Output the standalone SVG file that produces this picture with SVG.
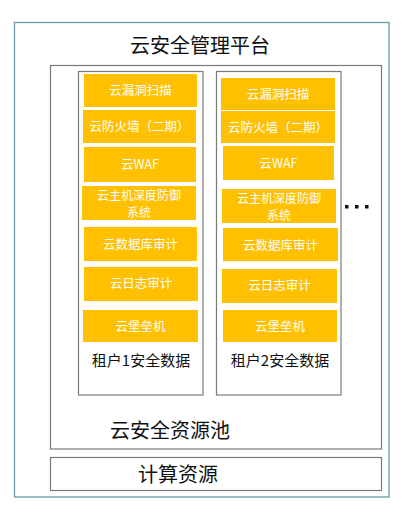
<svg xmlns="http://www.w3.org/2000/svg" width="403" height="512" viewBox="0 0 403 512">
<style>
.frame{fill:#fff;stroke:#6b97a6;stroke-width:1.3}
.box{fill:#fff;stroke:#7a7a7a;stroke-width:1.2}
.svc{fill:#FFC000;stroke:none}
.st{font-family:"Noto Sans CJK SC","Liberation Sans",sans-serif;font-size:12.5px;fill:#fff;text-anchor:middle}
.st2{font-family:"Noto Sans CJK SC","Liberation Sans",sans-serif;font-size:12px;fill:#fff;text-anchor:middle}
.lbl{font-family:"Noto Sans CJK SC","Liberation Sans",sans-serif;font-size:15px;fill:#111;text-anchor:middle}
.big{font-family:"Noto Sans CJK SC","Liberation Sans",sans-serif;font-size:20px;fill:#111;text-anchor:middle}
</style>
<rect width="403" height="512" fill="#fff"/>
<g id="platform">
<rect class="frame" x="14.5" y="22.5" width="374.5" height="474.5"/>
<text class="big" x="200" y="53">云安全管理平台</text>
</g>
<g id="pool">
<rect class="box" x="50.5" y="65.5" width="331" height="383.5"/>
<text class="big" x="170" y="438">云安全资源池</text>
</g>
<g id="tenant1">
<rect class="box" x="78.5" y="71.5" width="124.5" height="323.5"/>
<rect class="svc" x="84" y="74" width="113" height="33"/>
<text class="st" x="140.5" y="95">云漏洞扫描</text>
<rect class="svc" x="83" y="110" width="113" height="33"/>
<text class="st" x="139.5" y="131">云防火墙（二期）</text>
<rect class="svc" x="84" y="147" width="112" height="35"/>
<text class="st" x="140" y="169">云WAF</text>
<rect class="svc" x="82" y="186" width="114" height="34"/>
<text class="st2" x="139" y="199.5">云主机深度防御</text>
<text class="st2" x="139" y="217">系统</text>
<rect class="svc" x="84" y="227" width="113" height="34"/>
<text class="st" x="140.5" y="249">云数据库审计</text>
<rect class="svc" x="84" y="267" width="114" height="34"/>
<text class="st" x="141" y="288">云日志审计</text>
<rect class="svc" x="83" y="310" width="115" height="32"/>
<text class="st" x="140.5" y="331">云堡垒机</text>
<text class="lbl" x="141" y="366">租户1安全数据</text>
</g>
<g id="tenant2">
<rect class="box" x="216.5" y="71.5" width="124.5" height="323.5"/>
<rect class="svc" x="221" y="78" width="114" height="32"/>
<text class="st" x="278" y="99">云漏洞扫描</text>
<rect class="svc" x="221" y="111" width="114" height="32"/>
<text class="st" x="278" y="132">云防火墙（二期）</text>
<rect class="svc" x="223" y="146" width="111" height="34"/>
<text class="st" x="278.5" y="168">云WAF</text>
<rect class="svc" x="222" y="189" width="114" height="34"/>
<text class="st2" x="279" y="202.5">云主机深度防御</text>
<text class="st2" x="279" y="220">系统</text>
<rect class="svc" x="223" y="228" width="115" height="33"/>
<text class="st" x="280.5" y="250">云数据库审计</text>
<rect class="svc" x="222" y="269" width="115" height="34"/>
<text class="st" x="279.5" y="290">云日志审计</text>
<rect class="svc" x="223" y="310" width="114" height="32"/>
<text class="st" x="280" y="331">云堡垒机</text>
<text class="lbl" x="280" y="366">租户2安全数据</text>
</g>
<g id="more">
<rect x="345" y="205" width="3.5" height="3.5" fill="#111"/>
<rect x="355" y="205" width="3.5" height="3.5" fill="#111"/>
<rect x="365" y="205" width="3.5" height="3.5" fill="#111"/>
</g>
<g id="compute">
<rect class="box" x="50.5" y="457.5" width="331" height="33"/>
<text class="big" x="178" y="482">计算资源</text>
</g>
<g id="connectors"></g>
</svg>
